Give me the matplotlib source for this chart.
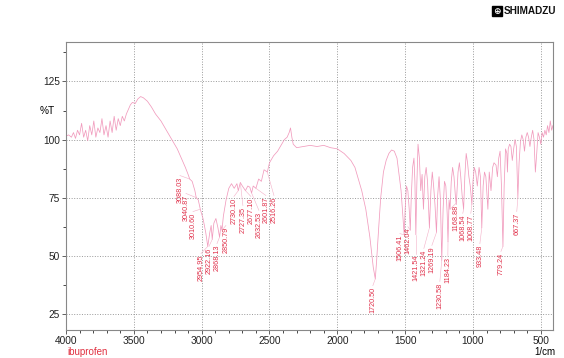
import matplotlib.pyplot as plt
from matplotlib.ticker import MultipleLocator

# IR-Spektrum Ibuprofen (Wellenzahl in 1/cm, Transmission in %T)
wellenzahl = [
    4000, 3980, 3960, 3945, 3930, 3915, 3900, 3885, 3870, 3855, 3840, 3825, 3810, 3795,
    3780, 3765, 3750, 3735, 3720, 3705, 3690, 3675, 3660, 3645, 3630, 3615, 3600, 3585,
    3570, 3555, 3540, 3525, 3510, 3490, 3470, 3450, 3430, 3400, 3370, 3340, 3300, 3260,
    3220, 3180, 3150, 3120, 3100, 3088, 3070, 3050, 3040, 3025, 3010, 2990, 2970, 2955,
    2940, 2930, 2922, 2910, 2895, 2880, 2868, 2858, 2850, 2840, 2820, 2800, 2780, 2760,
    2740, 2730, 2715, 2700, 2677, 2660, 2645, 2632, 2620, 2600, 2580, 2560, 2540, 2516,
    2500, 2470, 2440, 2410, 2390, 2370, 2355, 2345, 2335, 2325, 2300, 2250, 2200, 2150,
    2100, 2050, 2000, 1950, 1900, 1870, 1850, 1820, 1790, 1760, 1735, 1720, 1710, 1695,
    1680, 1660, 1640, 1620, 1600, 1580, 1560, 1545, 1530, 1515, 1507, 1500, 1490, 1480,
    1470, 1462, 1455, 1445, 1435, 1428, 1421, 1414, 1405, 1395, 1385, 1375, 1365, 1355,
    1345, 1335, 1321, 1310, 1300, 1290, 1280, 1269, 1260, 1250, 1240, 1230, 1220, 1210,
    1200, 1190, 1184, 1176, 1169, 1160, 1150, 1140, 1130, 1123, 1110, 1100, 1090, 1080,
    1069, 1060, 1050, 1040, 1030, 1020, 1008, 1000, 990, 980, 968, 955, 945, 935,
    925, 915, 905, 890, 880, 867, 855, 845, 830, 820, 810, 800, 790, 779,
    770, 760, 750, 746, 740, 730, 720, 710, 700, 690, 680, 669, 660, 650,
    640, 630, 620, 610, 600, 590, 580, 570, 560, 550, 540, 530, 520, 510,
    500, 490, 480, 470, 460, 450, 440, 430, 420, 411,
]
transmission = [
    101.5, 102, 101, 103, 100.5, 104, 102, 107, 101, 104, 99.5, 106, 102, 108,
    101, 105, 103, 109, 102, 106, 101, 108, 103, 110, 104, 109, 106, 110,
    108, 111, 113, 115, 116, 115.5, 117.5, 118.5, 118, 116.5, 114, 111, 108, 104,
    100, 96, 92, 88, 85, 83, 82, 78, 75, 74, 70, 66, 60, 54,
    60, 63, 57, 64, 66, 62, 58, 63, 61, 67, 74, 79, 81, 79,
    81, 78, 81.5, 80, 78, 80, 79.5, 77, 80, 79, 83, 82, 87, 86,
    90, 93, 95, 98, 100, 101, 103, 105, 101, 98, 96.5, 97, 97.5, 97,
    97.5, 96.5, 96, 94, 91, 88, 84, 78, 70, 58, 45, 40, 48, 62,
    75, 86, 91, 94, 95.5, 95, 92, 85, 78, 66, 59, 70, 80, 78,
    70, 61, 75, 88, 92, 82, 59, 80, 98, 92, 78, 85, 70, 84,
    88, 82, 62, 78, 86, 80, 72, 60, 76, 84, 74, 48, 70, 82,
    80, 68, 56, 74, 70, 82, 88, 84, 76, 72, 86, 90, 84, 76,
    70, 84, 94, 90, 84, 80, 72, 82, 88, 86, 80, 88, 84, 62,
    80, 86, 84, 70, 86, 78, 88, 90, 89, 84, 92, 95, 80, 54,
    80, 96, 94, 86, 96, 98, 97, 91, 96, 100, 97, 75, 90, 99,
    102, 100, 95, 101, 103, 101, 97, 101, 104, 100, 86, 94, 103, 101,
    98, 103, 101, 104, 102, 106, 103, 108, 104, 106,
]

# Peak-Beschriftungen: Text, Peak-Lage, Lage des Textes (x in 1/cm, Oberkante in %T)
peak_text = ["3088.03", "3040.87", "3010.60", "2954.95", "2922.16", "2868.13", "2850.79",
             "2730.10", "2727.35", "2677.10", "2632.53", "2601.87", "2516.26",
             "1720.50", "1506.41", "1462.04", "1421.54", "1321.24", "1269.19", "1230.58",
             "1184.23", "1168.88", "1068.54", "1008.77", "933.48", "779.24", "667.37"]
peak_wn = [3088, 3040, 3010, 2955, 2922, 2868, 2850,
           2730, 2715, 2677, 2632, 2600, 2516,
           1720, 1507, 1462, 1421, 1321, 1269, 1230,
           1184, 1169, 1069, 1008, 935, 779, 669]
peak_t = [83, 75, 70, 54, 57, 58, 61,
          78, 81.5, 78, 77, 79, 86,
          40, 59, 61, 59, 62, 60, 48,
          56, 70, 70, 72, 62, 54, 75]
text_wn = [3160, 3116, 3064, 3005, 2946, 2887, 2821,
           2762, 2696, 2637, 2578, 2526, 2467,
           1738, 1539, 1480, 1421, 1362, 1303, 1244,
           1185, 1126, 1075, 1016, 949, 794, 677]
text_top = [84, 76.3, 68.5, 50.4, 53.5, 54.7, 62.5,
            75, 71.1, 75, 69, 75.4, 75.4,
            36.6, 59, 62, 50.4, 52.6, 53.9, 38.4,
            49.6, 72, 67.7, 67.7, 54.7, 51.3, 68.5]

plt.rcParams['font.family'] = ['Liberation Sans', 'DejaVu Sans']

fig = plt.figure(figsize=(5.64, 3.58), dpi=100)
ax = fig.add_axes([66 / 564, 1 - 330 / 358, (553 - 66) / 564, (330 - 42) / 358])

ax.plot(wellenzahl, transmission, color='#f19bbd', lw=0.55)

# Leitlinien und Beschriftungen
for txt, pw, pt, tw, tt in zip(peak_text, peak_wn, peak_t, text_wn, text_top):
    ax.plot([pw, tw], [pt, tt + 0.5], color='#f4b0c8', lw=0.4)
    ax.text(tw, tt, txt, rotation=90, ha='center', va='top', fontsize=5.2, color='#e0304a')

ax.set_xlim(4000, 410)
ax.set_ylim(18, 142)
ax.xaxis.set_major_locator(MultipleLocator(500))
ax.xaxis.set_minor_locator(MultipleLocator(100))
ax.yaxis.set_major_locator(MultipleLocator(25))
ax.yaxis.set_minor_locator(MultipleLocator(12.5))
ax.tick_params(labelsize=7.3, colors='#222222', length=3, width=0.5, pad=1.5)
ax.tick_params(which='minor', length=2, width=0.5)
ax.grid(True, which='major', color='#999999', linestyle=':', lw=0.7)
for s in ax.spines.values():
    s.set_color('#888888')
    s.set_linewidth(0.8)

fig.text(40 / 564, 1 - 111 / 358, '%T', fontsize=7.3, ha='left', va='center')
fig.text(545 / 564, 1 - 352 / 358, '1/cm', fontsize=7, ha='center', va='center')
fig.text(67 / 564, 1 - 352 / 358, 'ibuprofen', fontsize=7, ha='left', va='center', color='#e03040')

# Logo oben rechts
fig.text(497 / 564, 1 - 11 / 358, '\u2295', fontsize=6.5, ha='center', va='center', color='white',
         family='DejaVu Sans', fontweight='bold',
         bbox=dict(boxstyle='square,pad=0.1', facecolor='black', edgecolor='black'))
fig.text(504 / 564, 1 - 11 / 358, 'SHIMADZU', fontsize=7.2, ha='left', va='center',
         fontweight='bold', color='#111111')

fig.savefig('out.png', dpi=100)
